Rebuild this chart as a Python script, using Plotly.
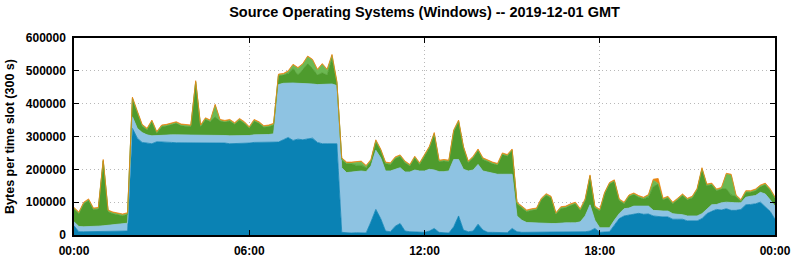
import pandas as pd
import plotly.graph_objects as go

# 10-minute samples, 2019-12-01 00:00 .. 2019-12-02 00:00 (values in bytes per 300 s slot, thousands)
times = pd.date_range("2019-12-01 00:00", "2019-12-02 00:00", freq="10min")

win_a = [28, 10, 10, 10, 10, 10, 10, 10, 10, 10, 10, 12,
         325, 295, 282, 280, 278, 284, 284, 283, 282, 281, 281, 280, 280, 280, 280, 280, 280, 280,
         280, 280, 278, 278, 280, 280, 280, 282, 282, 283, 283, 283, 283, 290, 297, 288, 292, 290,
         293, 295, 282, 278, 278, 278, 278, 8, 6, 6,
         7, 7, 6, 40, 78, 50, 12, 10, 27, 35, 12, 10, 10, 10, 8, 12, 20, 8, 6, 6, 25, 58, 15, 10,
         12, 33, 15, 8, 8,
         7, 7, 7, 20, 10, 8, 8, 8, 8, 8, 8, 8, 8, 8, 8, 8, 8, 8, 10, 12, 20, 8, 8, 10, 30, 50, 58,
         60, 63,
         66, 63, 64, 58, 56, 55, 55, 48, 48, 48, 43, 43, 43, 50, 65, 72, 78, 76, 80, 75, 75, 78,
         92, 93, 95, 100, 85, 72, 48]

win_b = [12, 16, 15, 15, 17, 17, 18, 20, 22, 23, 24, 24,
         35, 30, 30, 25, 24, 19, 21, 22, 23, 24, 24, 23, 23, 25, 23, 25, 25, 25,
         23, 23, 24, 24, 24, 24, 23, 23, 23, 23, 23, 25, 175, 172, 166, 175, 170, 172,
         169, 165, 176, 180, 181, 182, 177, 197, 184, 186,
         188, 188, 187, 170, 180, 185, 183, 185, 173, 170, 180, 182, 188, 185, 187, 188, 178, 185,
         187, 189, 205, 172, 185, 185, 186, 182, 180, 184, 182,
         178, 178, 178, 165, 48, 37, 30, 29, 29, 29, 27, 27, 27, 29, 29, 29, 29, 32, 48, 80, 25,
         14, 14, 12, 15, 15, 22, 22, 25,
         22, 25, 24, 17, 17, 18, 18, 17, 15, 14, 15, 15, 15, 15, 15, 20, 15, 22, 20, 23, 23, 20,
         23, 25, 25, 30, 40, 35, 40]

win_c = [39, 39, 70, 80, 50, 52, 197, 41, 33, 28, 25, 27,
         55, 48, 20, 15, 43, 7, 25, 27, 32, 35, 28, 29, 27, 160, 27, 47, 40, 55,
         44, 41, 45, 35, 46, 36, 22, 42, 35, 22, 24, 27, 27, 25, 29, 44, 25, 42,
         60, 47, 29, 36, 28, 77, 8, 25, 27, 25,
         17, 17, 12, 15, 27, 22, 22, 20, 33, 34, 28, 18, 37, 20, 45, 65, 109, 30, 32, 28, 85, 115,
         65, 25, 37, 42, 35, 31, 27,
         28, 60, 55, 72, 37, 38, 33, 38, 40, 70, 86, 78, 28, 44, 46, 53, 58, 35, 47, 86, 38, 51,
         103, 133, 118, 40, 15, 35, 35,
         27, 22, 27, 72, 82, 34, 40, 30, 44, 58, 49, 55, 79, 135, 70, 61, 42, 42, 40, 24, 19, 5,
         15, 12, 15, 17, 28, 29, 25]

win_d = [2] * 29 + [35] + [2] * 14 + [5, 10, 20, 15, 20, 25, 15, 25, 15, 10, 2, 2, 2, 2] \
        + [8, 10, 4] + [2] * 57 + [5, 20] + [2] * 14 + [45, 60] + [2] * 8

win_e = [3] * 120 + [15] + [3] * 24

series = [
    ("Windows A", win_a, "#0a82b4"),
    ("Windows B", win_b, "#8ec3e2"),
    ("Windows C", win_c, "#4e9b2d"),
    ("Windows D", win_d, "#6cb852"),
    ("Windows E", win_e, "#e8840f"),
]

fig = go.Figure()
for name, vals, col in series:
    fig.add_trace(go.Scatter(
        x=times, y=[v * 1000 for v in vals], name=name, mode="lines",
        stackgroup="one", fillcolor=col,
        line=dict(color=col, width=0.8), hoverinfo="skip",
    ))

font = "Liberation Sans, Arial, sans-serif"
fig.update_layout(
    width=795, height=260,
    margin=dict(l=74, r=20, t=38, b=25),
    paper_bgcolor="white", plot_bgcolor="white",
    showlegend=False,
    font=dict(family=font, size=12, color="black"),
    title=dict(text="<b>Source Operating Systems (Windows) -- 2019-12-01 GMT</b>",
               x=0.534, xanchor="center", y=0.955, yanchor="middle",
               font=dict(family=font, size=14.5, color="black")),
)
fig.update_xaxes(
    range=["2019-12-01 00:00", "2019-12-02 00:00"],
    tickvals=pd.date_range("2019-12-01", "2019-12-02", freq="6h"),
    ticktext=["<b>00:00</b>", "<b>06:00</b>", "<b>12:00</b>", "<b>18:00</b>", "<b>00:00</b>"],
    showgrid=True, gridcolor="#b8b8b8", griddash="1px,3px", gridwidth=1,
    showline=True, linecolor="black", linewidth=1.5, mirror="ticks",
    ticks="inside", ticklen=5, tickcolor="black",
    tickfont=dict(family=font, size=12, color="black"),
    zeroline=False, automargin=False, ticklabelstandoff=4,
)
fig.update_yaxes(
    range=[0, 600000],
    tickvals=[0, 100000, 200000, 300000, 400000, 500000, 600000],
    ticktext=["<b>%d</b>" % v for v in [0, 100000, 200000, 300000, 400000, 500000, 600000]],
    showgrid=True, gridcolor="#b8b8b8", griddash="1px,3px", gridwidth=1,
    showline=True, linecolor="black", linewidth=1.5, mirror="ticks",
    ticks="inside", ticklen=5, tickcolor="black",
    tickfont=dict(family=font, size=12, color="black"),
    zeroline=False, automargin=False, ticklabelstandoff=4,
    title=dict(text="<b>Bytes per time slot (300 s)</b>", standoff=8,
               font=dict(family=font, size=12.5, color="black")),
)
fig.write_html("out.html")
